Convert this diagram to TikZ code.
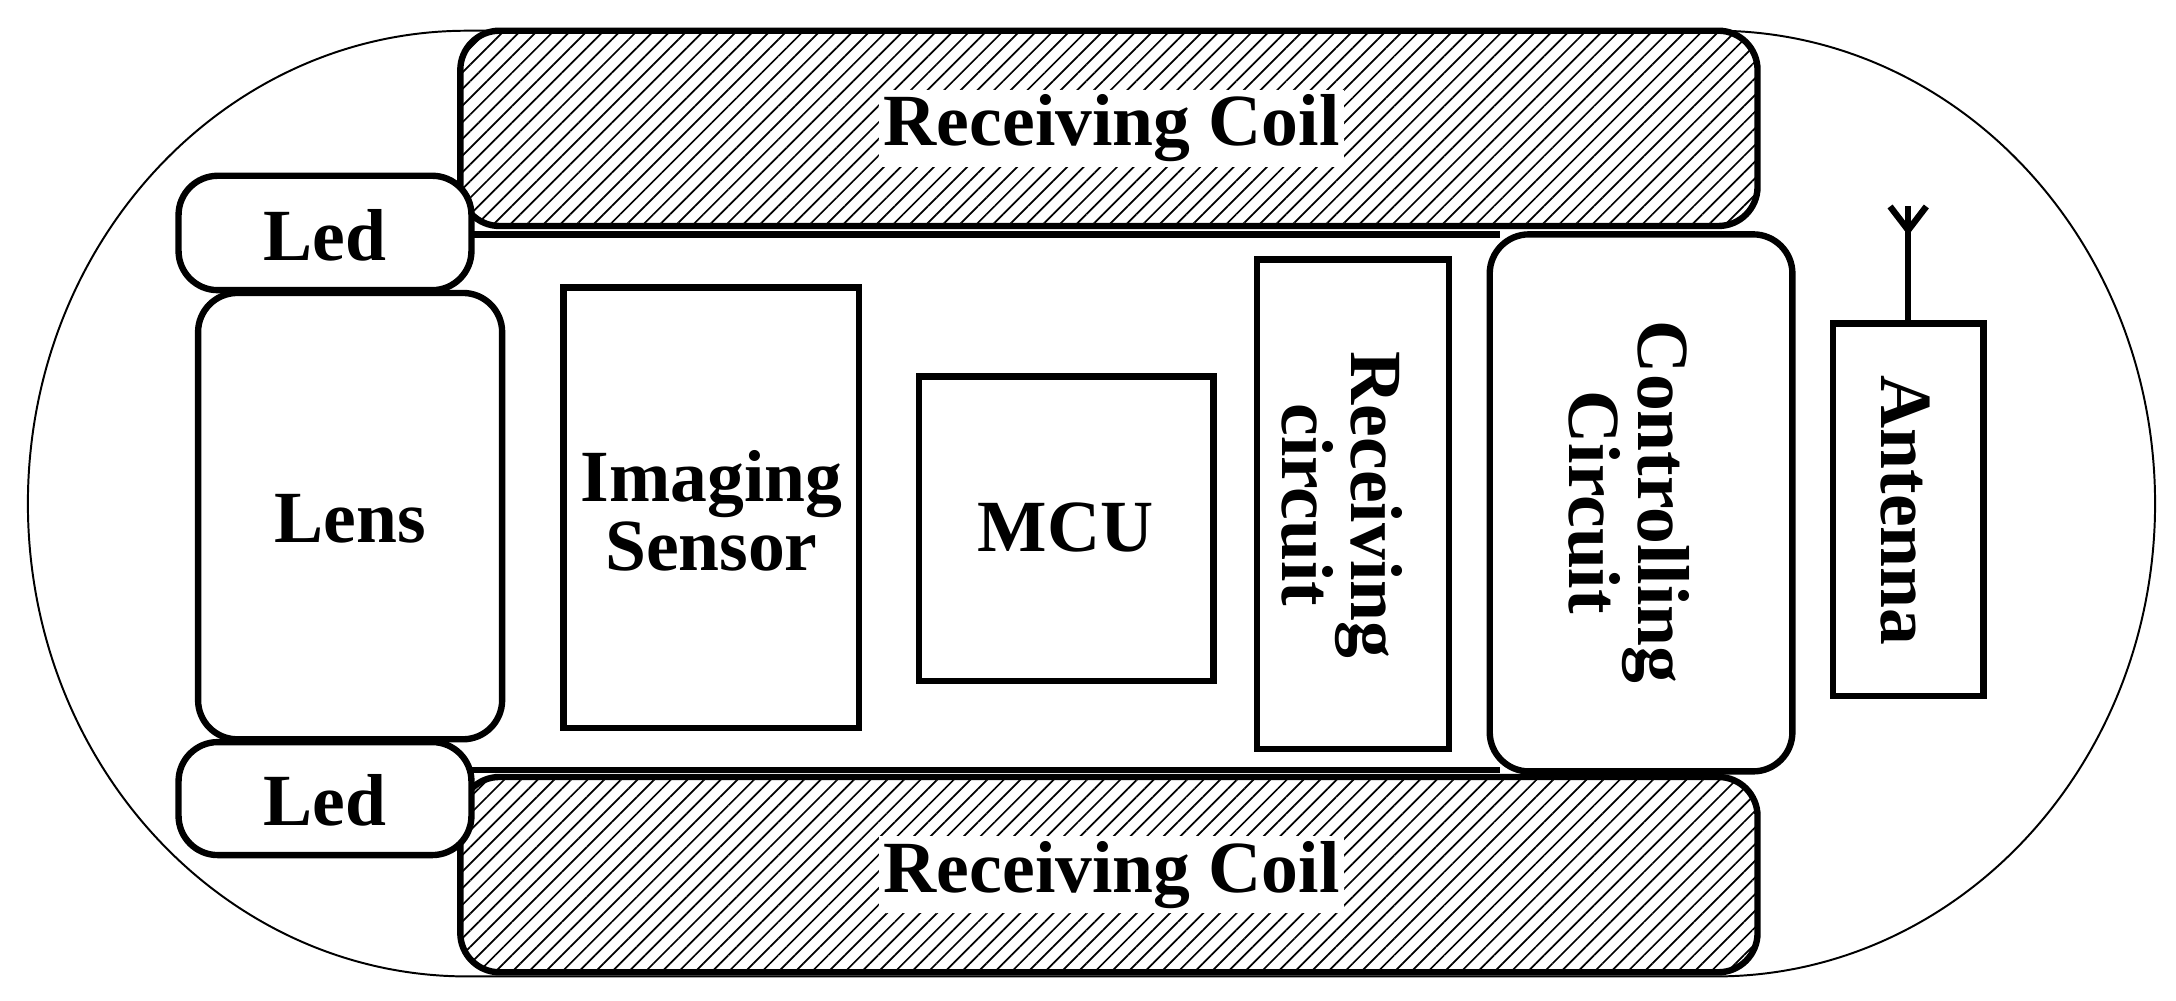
\documentclass[tikz,border=0pt]{standalone}
\usepackage{fontspec}
\setmainfont{Liberation Serif}
\usetikzlibrary{patterns.meta}
\begin{document}
\begin{tikzpicture}[x=0.01cm,y=-0.01cm,
  thk/.style={line width=1.3pt},
  lbl/.style={font=\fontsize{15}{17}\selectfont\bfseries, align=center},
  coil/.style={thk, rounded corners=8pt, pattern={Lines[angle=45,distance=2.4pt,line width=0.35pt]}},
  rr/.style={thk, rounded corners=8pt}]
\useasboundingbox (0,0) rectangle (1560,717.6);
% outer capsule
\draw[line width=0.4pt] (335,22) -- (1230,22) arc[start angle=90,end angle=-90,x radius=315,y radius=-339] -- (335,700) arc[start angle=-90,end angle=-270,x radius=315,y radius=-339];
% inner body lines
\draw[thk] (335,168) -- (1075,168);
\draw[thk] (335,552) -- (1075,552);
% coils
\draw[coil] (330,22) rectangle (1260,162);
\node[lbl, fill=white, inner sep=1pt] (c1) at (797,92) {Receiving Coil};
\draw[coil] (330,557) rectangle (1260,697);
\node[lbl, fill=white, inner sep=1pt] (c2) at (797,627) {Receiving Coil};
% leds
\draw[rr, fill=white] (128,126) rectangle (338,208);
\node[lbl] (l1) at (233,169) {Led};
\draw[rr, fill=white] (128,532) rectangle (338,613);
\node[lbl] (l2) at (233,574) {Led};
% lens
\draw[rr] (142,210) rectangle (360,530);
\node[lbl] (lens) at (251,372) {Lens};
% imaging sensor
\draw[thk] (404,206) rectangle (616,522);
\node[lbl] (is) at (510,366) {Imaging\\[-3pt]Sensor};
% mcu
\draw[thk] (659,270) rectangle (870,488);
\node[lbl] (mcu) at (764,378) {MCU};
% receiving circuit
\draw[thk] (901,186) rectangle (1039,537);
\node[lbl, rotate=-90] (rc) at (962,362) {Receiving\\[-3pt]circuit};
% controlling circuit
\draw[rr, fill=white] (1068,168) rectangle (1285,553);
\node[lbl, rotate=-90] (cc) at (1168,360) {Controlling\\[-3pt]Circuit};
% antenna
\draw[thk] (1314,232) rectangle (1422,499);
\node[lbl, rotate=-90] (ant) at (1366,366) {Antenna};
\coordinate (a0) at (1368,232);
\coordinate (a1) at (1368,165);
\draw[thk] (a0) -- (1368,148);
\draw[thk] (a1) -- (1355,148);
\draw[thk] (a1) -- (1381,148);
\end{tikzpicture}
\end{document}
